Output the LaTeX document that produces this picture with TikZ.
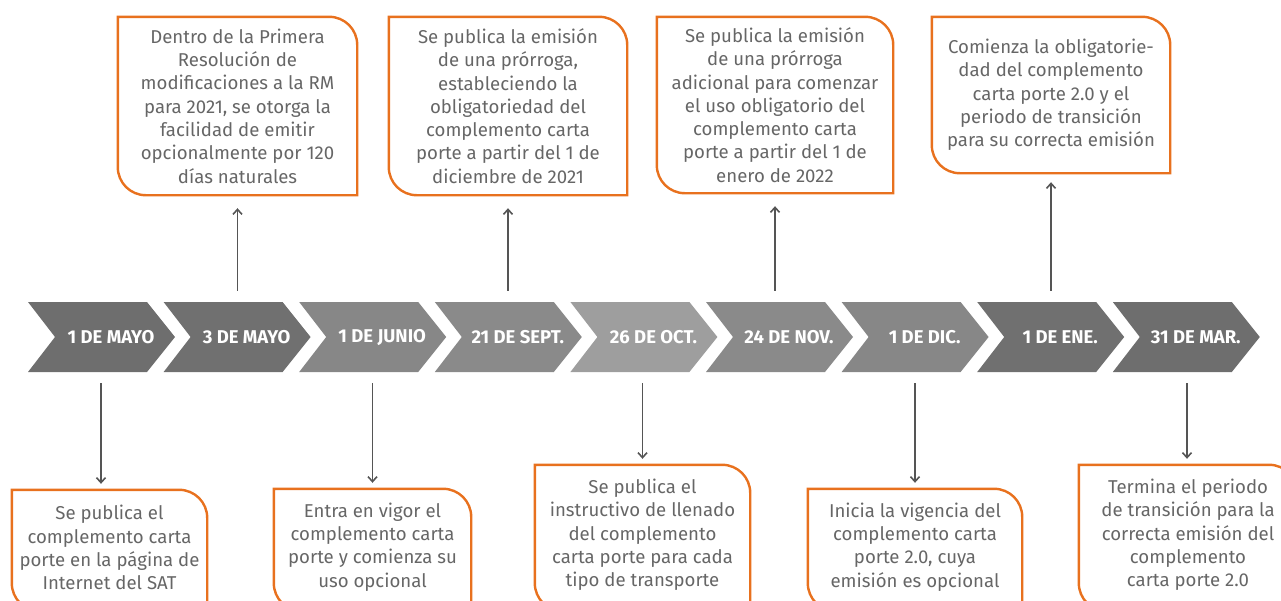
\documentclass[tikz,border=0pt]{standalone}
\usepackage{fontspec}
\setmainfont{Fira Sans}
\usepackage{xcolor}
\usepackage{tikz}
\usetikzlibrary{arrows.meta}
\definecolor{naranja}{HTML}{E8711E}
\definecolor{textgris}{HTML}{666666}
\definecolor{flechagris}{HTML}{555555}
\tikzset{
  Caja/.style={align=center, inner sep=0pt, text=textgris,
    font=\fontsize{18.6}{23.3}\selectfont}, % Texte der Kaesten
  Rand/.style={draw=naranja, line width=2.4pt}, % orange Rahmen
  Fecha/.style={text=white, font=\bfseries\fontsize{18.5}{20}\selectfont,
    minimum height=70pt, inner sep=0pt}, % Datum im Pfeil
  Flecha/.style={flechagris, line width=1.8pt, shorten <=11pt, shorten >=#1,
    -{Straight Barb[length=5pt,width=9pt,line width=1.6pt]}}
}

\begin{document}
\begin{tikzpicture}[x=1pt, y=-1pt]
\useasboundingbox (0,0) rectangle (1281,600);
\clip (0,0) rectangle (1281,600);

%Fechas
\foreach \i/\txt/\g in {1/1 DE MAYO/57, 2/3 DE MAYO/56, 3/1 DE JUNIO/47,
  4/21 DE SEPT./46, 5/26 DE OCT./38, 6/24 DE NOV./46, 7/1 DE DIC./47,
  8/1 DE ENE./56, 9/31 DE MAR./57}
{
  \pgfmathsetmacro{\xa}{28+(\i-1)*135.6}
  \fill[black!\g] (\xa,302) -- ++(119,0) -- ++(28,35) -- ++(-28,35)
    -- ++(-119,0) -- ++(27,-35) -- cycle;
  \node[Fecha] (c\i) at (\xa+83,337) {\txt};
}

%Cajas arriba
\node[Caja, minimum width=239pt, minimum height=178pt] (t1) at (237.5,106)
  {Dentro de la Primera\\ Resolución de\\ modificaciones  a la RM\\
   para 2021, se otorga la\\ facilidad de emitir\\ opcionalmente por 120\\
   días naturales};
\node[Caja, minimum width=238pt, minimum height=178pt] (t2) at (508,106)
  {Se publica la emisión\\ de una prórroga,\\ estableciendo la\\
   obligatoriedad del\\ complemento carta\\ porte a partir del 1 de\\
   diciembre de 2021};
\node[Caja, minimum width=236pt, minimum height=176pt] (t3) at (775,105)
  {Se publica la emisión\\ de una prórroga\\ adicional para comenzar\\
   el uso obligatorio del\\ complemento carta\\ porte a partir del 1 de\\
   enero de 2022};
\node[Caja, minimum width=238pt, minimum height=156pt] (t4) at (1051,95)
  {Comienza la obligatorie-\\ dad del complemento\\ carta porte 2.0 y el\\
   periodo de transición\\ para su correcta emisión};

%Cajas abajo
\node[Caja, minimum width=195pt, minimum height=115pt] (b1) at (109.5,547.5)
  {Se publica el\\ complemento carta\\ porte en la página de\\
   Internet del SAT};
\node[Caja, minimum width=197pt, minimum height=116pt] (b2) at (372.5,547)
  {Entra en vigor el\\ complemento carta\\ porte y comienza su\\
   uso opcional};
\node[Caja, minimum width=215pt, minimum height=140pt] (b3) at (642.5,535)
  {Se publica el\\ instructivo de llenado\\ del complemento\\
   carta porte para cada\\ tipo de transporte};
\node[Caja, minimum width=214pt, minimum height=116pt] (b4) at (915,547)
  {Inicia la vigencia del\\ complemento carta\\ porte 2.0, cuya\\
   emisión es opcional};
\node[Caja, minimum width=218pt, minimum height=140pt] (b5) at (1188,535)
  {Termina el periodo\\ de transición para la\\ correcta emisión del\\
   complemento\\ carta porte 2.0};

%Rahmen
\foreach \n in {t1,t2,t3,t4}
  \draw[Rand] (\n.west) -- (\n.north west) [rounded corners=28pt]
    -- (\n.north east) [sharp corners] -- (\n.south east)
    [rounded corners=28pt] -- (\n.south west) [sharp corners] -- cycle;
\foreach \n in {b1,b2,b3,b4,b5}
  \draw[Rand] (\n.west) -- (\n.north west) [rounded corners=28pt]
    -- (\n.north east) [sharp corners] -- ([yshift=-6pt]\n.south east)
    [rounded corners=28pt] -- ([yshift=-6pt]\n.south west) [sharp corners]
    -- cycle;

%Flechas
\draw[Flecha=13pt] (t1.south |- c2.north) -- (t1.south);
\draw[Flecha=13pt] (t2.south |- c4.north) -- (t2.south);
\draw[Flecha=13pt] (t3.south |- c6.north) -- (t3.south);
\draw[Flecha=9pt] (t4.south |- c8.north) -- (t4.south);

\draw[Flecha=6pt] ([xshift=-8.5pt]b1.north |- c1.south) -- ([xshift=-8.5pt]b1.north);
\draw[Flecha=6pt] (b2.north |- c3.south) -- (b2.north);
\draw[Flecha=6pt] (b3.north |- c5.south) -- (b3.north);
\draw[Flecha=6pt] (b4.north |- c7.south) -- (b4.north);
\draw[Flecha=6pt] ([xshift=-1pt]b5.north |- c9.south) -- ([xshift=-1pt]b5.north);

\end{tikzpicture}
\end{document}
